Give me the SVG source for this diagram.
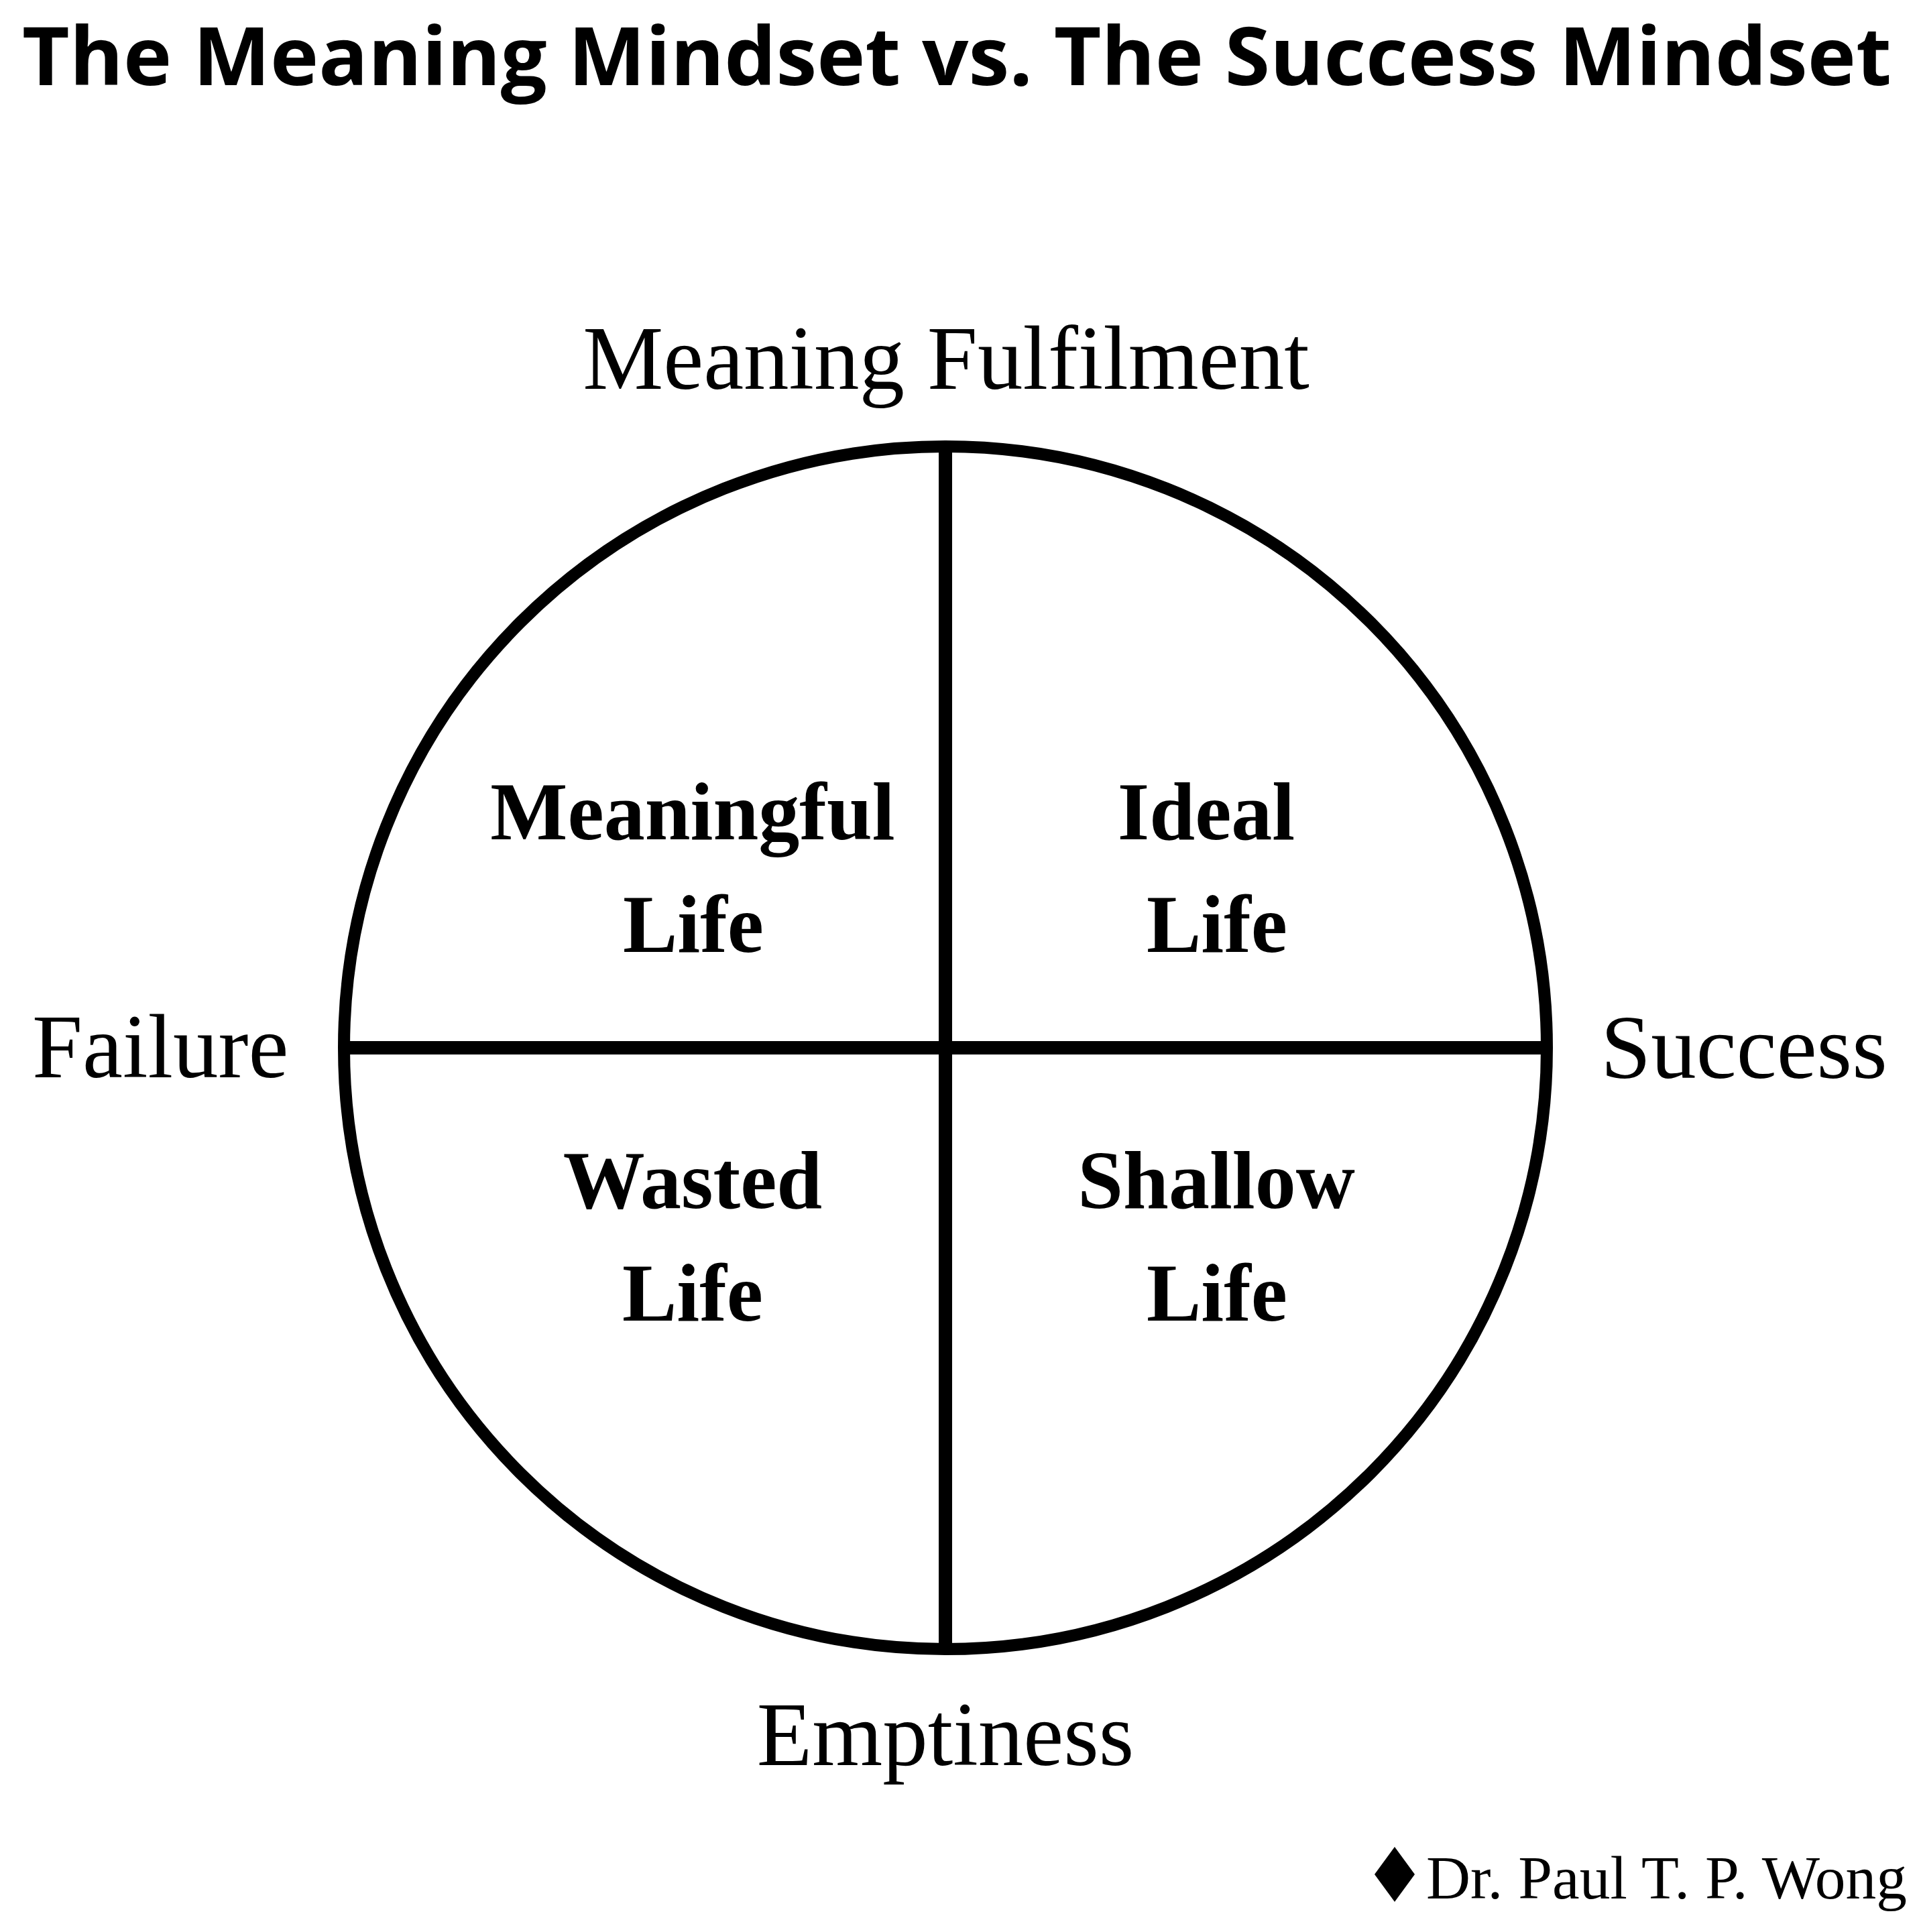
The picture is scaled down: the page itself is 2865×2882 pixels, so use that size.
<svg xmlns="http://www.w3.org/2000/svg" width="2865" height="2882" viewBox="0 0 2865 2882">
<style>
.title{font-family:"Open Sans","Liberation Sans",sans-serif;font-weight:700;font-size:120px;fill:#000}
.axis{font-family:"Liberation Serif","Times New Roman",serif;font-size:135px;fill:#000}
.quad{font-family:"Liberation Serif","Times New Roman",serif;font-weight:700;font-size:122px;fill:#000;text-anchor:middle}
.credit{font-family:"Liberation Serif","Times New Roman",serif;font-size:92px;fill:#000}
.ring{fill:none;stroke:#000;stroke-width:18}
.axisline{stroke:#000;stroke-width:20;fill:none}
</style>
<rect width="2865" height="2882" fill="#fff"/>
<g id="title">
<text class="title" x="33" y="127" textLength="2788" lengthAdjust="spacingAndGlyphs">The Meaning Mindset vs. The Success Mindset</text>
</g>
<g id="circle">
<circle class="ring" cx="1410" cy="1563" r="897"/>
</g>
<g id="connectors">
<line class="axisline" x1="1410" y1="666" x2="1410" y2="2460"/>
<line class="axisline" x1="513" y1="1563" x2="2307" y2="1563"/>
</g>
<g id="label-top">
<text class="axis" x="1411" y="580" text-anchor="middle">Meaning Fulfilment</text>
</g>
<g id="label-bottom">
<text class="axis" x="1410" y="2633" text-anchor="middle">Emptiness</text>
</g>
<g id="label-left">
<text class="axis" x="48" y="1607">Failure</text>
</g>
<g id="label-right">
<text class="axis" x="2601" y="1608" text-anchor="middle">Success</text>
</g>
<g id="quad-meaningful">
<text class="quad" x="1033" y="1252">Meaningful</text>
<text class="quad" x="1034" y="1420">Life</text>
</g>
<g id="quad-ideal">
<text class="quad" x="1799" y="1252">Ideal</text>
<text class="quad" x="1815" y="1420">Life</text>
</g>
<g id="quad-wasted">
<text class="quad" x="1033" y="1802">Wasted</text>
<text class="quad" x="1033" y="1970">Life</text>
</g>
<g id="quad-shallow">
<text class="quad" x="1814" y="1802">Shallow</text>
<text class="quad" x="1815" y="1970">Life</text>
</g>
<g id="credit">
<polygon points="2080,2755 2110,2796 2080,2837 2050,2796" fill="#000"/>
<text class="credit" x="2127" y="2832" textLength="717" lengthAdjust="spacingAndGlyphs">Dr. Paul T. P. Wong</text>
</g>
</svg>
